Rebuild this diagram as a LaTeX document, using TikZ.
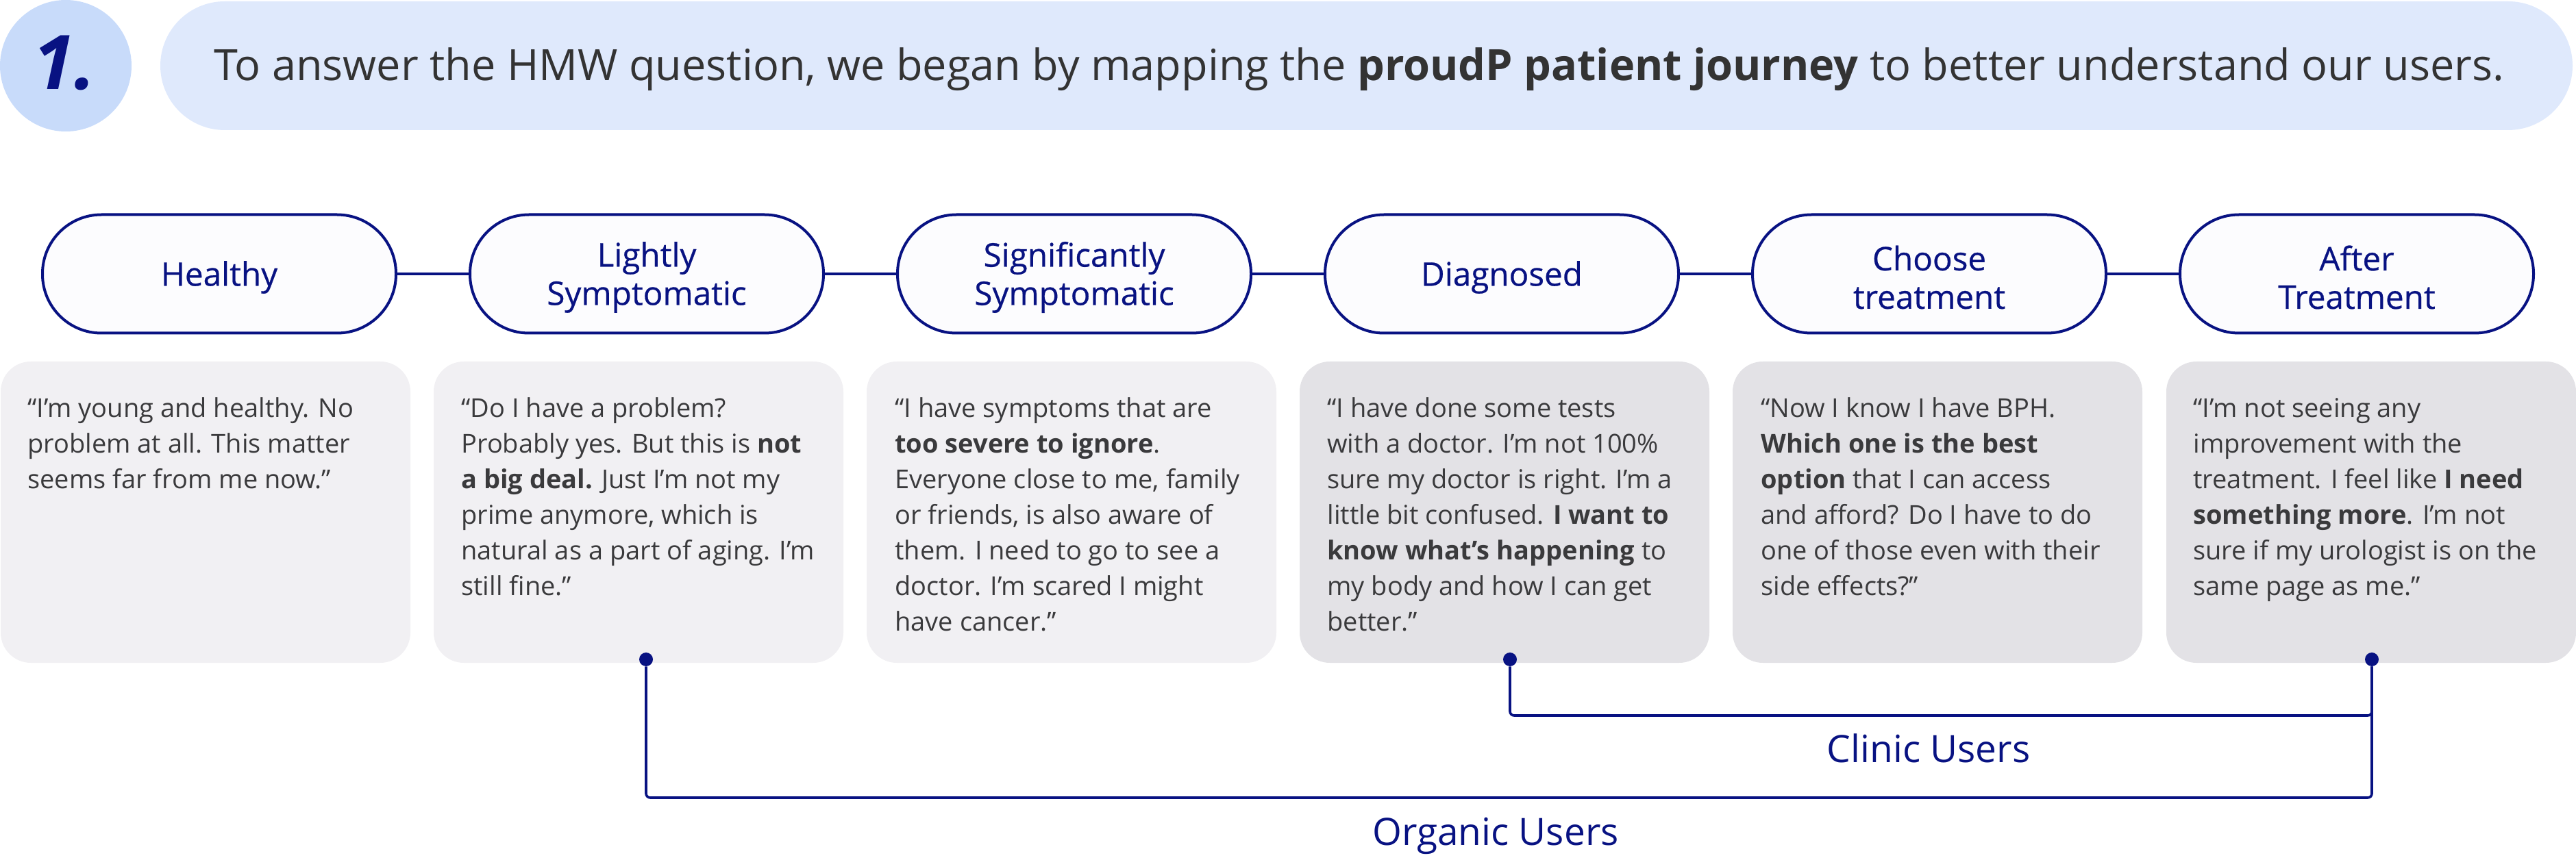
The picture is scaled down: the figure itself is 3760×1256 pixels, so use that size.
\documentclass[tikz,border=0pt]{standalone}
\usepackage{fontspec}
\setmainfont{Open Sans}
\newfontfamily\pillfont{Open Sans}[FakeBold=0.5]
\definecolor{navy}{RGB}{8,18,130}
\definecolor{bannerbg}{RGB}{223,233,252}
\definecolor{circbg}{RGB}{200,219,250}
\definecolor{cardA}{RGB}{241,240,243}
\definecolor{cardB}{RGB}{227,226,230}
\definecolor{pillbg}{RGB}{252,252,254}
\definecolor{hdrtext}{RGB}{51,51,51}
\definecolor{cardtext}{RGB}{58,58,60}
\newcommand{\qs}{\rule{0pt}{20pt}}
\tikzset{
  pill/.style={draw=navy, line width=2pt, fill=pillbg, rounded corners=43pt,
    minimum width=258pt, minimum height=86.5pt, inner sep=0pt},
  pilltext/.style={inner sep=0pt, align=center,
    text=navy, font=\pillfont\fontsize{23.8}{28}\selectfont},
  card/.style={rounded corners=22pt, minimum width=299pt, minimum height=220pt, inner sep=0pt},
  quote/.style={anchor=north west, align=left, inner sep=0pt, text=cardtext,
    font=\fontsize{19}{26}\selectfont},
  link/.style={draw=navy, line width=2pt},
  conn/.style={draw=navy, line width=1.8pt, rounded corners=3pt},
  dot/.style={circle, fill=navy, inner sep=0pt, minimum size=10pt},
  userlbl/.style={anchor=base, inner sep=0pt, text=navy, font=\fontsize{27.5}{32}\selectfont}
}
\begin{document}
\begin{tikzpicture}[x=0.5pt,y=-0.5pt]
\useasboundingbox (0,0) rectangle (3760,1256);
% header
\node[circle, fill=circbg, minimum size=96pt, inner sep=0pt] (num) at (96,96) {};
\node[anchor=base, inner sep=0pt, text=navy, font=\fontsize{55}{60}\selectfont\bfseries\itshape] (numtxt) at (94,131) {1.};
\node[fill=bannerbg, rounded corners=47pt, minimum width=1760.5pt, minimum height=94pt, inner sep=0pt] (banner) at (1994.5,96) {};
\node[anchor=base west, inner sep=0pt, text=hdrtext, font=\fontsize{31.5}{36}\selectfont] (htext) at (312,118)
  {To answer the HMW question, we began by mapping the \textbf{proudP patient journey} to better understand our users.};
% pills
\node[pill] (p1) at (320,400) {};
\node[pill] (p2) at (944,400) {};
\node[pill] (p3) at (1568,400) {};
\node[pill] (p4) at (2192,400) {};
\node[pill] (p5) at (2816,400) {};
\node[pill] (p6) at (3440,400) {};
\node[pilltext] (p1t) at ([yshift=-2.5pt]p1.center) {Healthy};
\node[pilltext] (p2t) at ([yshift=-2.5pt]p2.center) {Lightly\\Symptomatic};
\node[pilltext] (p3t) at ([yshift=-2.5pt]p3.center) {Significantly\\Symptomatic};
\node[pilltext] (p4t) at ([yshift=-2.5pt]p4.center) {Diagnosed};
\node[pilltext] (p5t) at ([yshift=-2.5pt]p5.center) {Choose\\treatment};
\node[pilltext] (p6t) at ([yshift=-2.5pt]p6.center) {After\\Treatment};
\draw[link] (p1.east) -- (p2.west);
\draw[link] (p2.east) -- (p3.west);
\draw[link] (p3.east) -- (p4.west);
\draw[link] (p4.east) -- (p5.west);
\draw[link] (p5.east) -- (p6.west);
% cards
\node[card, fill=cardA] (c1) at (300,748) {};
\node[card, fill=cardA] (c2) at (932,748) {};
\node[card, fill=cardA] (c3) at (1564,748) {};
\node[card, fill=cardB] (c4) at (2196,748) {};
\node[card, fill=cardB] (c5) at (2828,748) {};
\node[card, fill=cardB] (c6) at (3461,748) {};
\node[quote] (q1) at (40,569) {\qs“I'm young and healthy. No\\problem at all. This matter\\seems far from me now.”};
\node[quote] (q2) at (673,569) {\qs“Do I have a problem?\\Probably yes. But this is \textbf{not}\\\textbf{a big deal.} Just I'm not my\\prime anymore, which is\\natural as a part of aging. I'm\\still fine.”};
\node[quote] (q3) at (1306,569) {\qs“I have symptoms that are\\\textbf{too severe to ignore}.\\Everyone close to me, family\\or friends, is also aware of\\them. I need to go to see a\\doctor. I'm scared I might\\have cancer.”};
\node[quote] (q4) at (1937,569) {\qs“I have done some tests\\with a doctor. I'm not 100\%\\sure my doctor is right. I'm a\\little bit confused. \textbf{I want to}\\\textbf{know what's happening} to\\my body and how I can get\\better.”};
\node[quote] (q5) at (2570,569) {\qs“Now I know I have BPH.\\\textbf{Which one is the best}\\\textbf{option} that I can access\\and afford? Do I have to do\\one of those even with their\\side effects?”};
\node[quote] (q6) at (3201,569) {\qs“I'm not seeing any\\improvement with the\\treatment. I feel like \textbf{I need}\\\textbf{something more}. I'm not\\sure if my urologist is on the\\same page as me.”};
% user groups
\node[dot] (d1) at (943,963) {};
\node[dot] (d2) at (2204,963) {};
\node[dot] (d3) at (3462,963) {};
\coordinate (cr) at (3462,1045);
\coordinate (orr) at (3462,1165);
\draw[conn] (d2) |- (cr) -- (d3);
\draw[conn] (d1) |- (orr) -- (d3);
\node[userlbl] (clinic) at (2815,1113) {Clinic Users};
\node[userlbl] (organic) at (2183,1234) {Organic Users};
\end{tikzpicture}
\end{document}
